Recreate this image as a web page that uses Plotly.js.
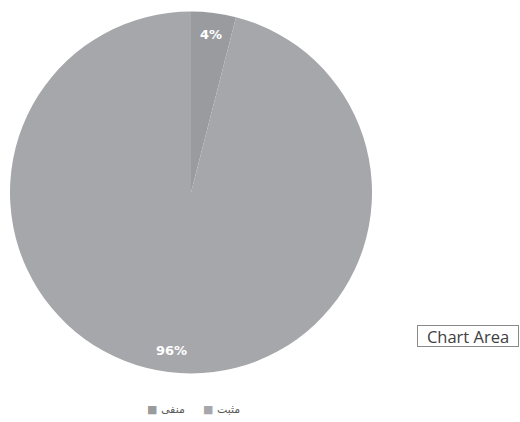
<!DOCTYPE html>
<html><head><meta charset="utf-8">
<script src="https://cdn.plot.ly/plotly-3.0.1.min.js"></script>
<style>html,body{margin:0;padding:0;background:#fff;}#chart{width:520px;height:422px;}</style>
</head><body><div id="chart"></div>
<script>
const labels = ["منفی", "مثبت"];
const values = [4, 96];
const sliceColors = ["#9a9b9f", "#a6a7ab"];

const W = 520, H = 422;
const pieLeft = 10, pieRight = 372, pieTop = 11, pieBottom = 374;
const dom = {x: [pieLeft / W, pieRight / W], y: [1 - pieBottom / H, 1 - pieTop / H]};

const trace = {
  type: "pie",
  labels: labels,
  values: values,
  sort: false,
  direction: "clockwise",
  rotation: 0,
  marker: {colors: sliceColors, line: {width: 0}},
  textinfo: "none",
  domain: dom,
  hoverinfo: "none",
  showlegend: false
};

// percentage labels placed along each slice's bisector (derived from values)
const total = values.reduce((a, b) => a + b, 0);
const cxPx = (pieLeft + pieRight) / 2, cyPx = (pieTop + pieBottom) / 2;
const R = Math.min(pieRight - pieLeft, pieBottom - pieTop) / 2;
const annotations = [];
let cum = 0;
values.forEach((v, i) => {
  const mid = (cum + v / 2) / total * 2 * Math.PI;
  cum += v;
  const rr = 0.88 * R;
  const px = cxPx + rr * Math.sin(mid);
  const py = cyPx - rr * Math.cos(mid);
  annotations.push({
    xref: "paper", yref: "paper", x: px / W, y: 1 - py / H,
    xanchor: "center", yanchor: "middle", showarrow: false,
    text: "<b>" + Math.round(v / total * 100) + "%</b>",
    font: {family: "DejaVu Sans", size: 13, color: "#ffffff"}
  });
});

// legend drawn as annotations (marker square + label)
const legendX = [145, 201];
labels.forEach((lab, i) => {
  annotations.push({
    xref: "paper", yref: "paper", x: legendX[i] / W, y: 1 - 409 / H,
    xanchor: "left", yanchor: "middle", showarrow: false,
    text: "<span style='color:" + sliceColors[i] + "'>■</span> " + lab,
    font: {family: "DejaVu Sans", size: 11, color: "#595959"}
  });
});

annotations.push({
  xref: "paper", yref: "paper", x: 417 / W, y: 1 - 335.5 / H, xanchor: "left", yanchor: "middle",
  text: "Chart Area", showarrow: false, bordercolor: "#8a8a8a", borderwidth: 1, borderpad: 0,
  width: 100, height: 20, align: "center",
  bgcolor: "#ffffff", font: {family: "Open Sans", size: 16.5, color: "#404040"}
});

const layout = {
  width: W, height: H,
  margin: {l: 0, r: 0, t: 0, b: 0},
  paper_bgcolor: "#ffffff",
  showlegend: false,
  annotations: annotations
};

Plotly.newPlot("chart", [trace], layout, {displayModeBar: false, staticPlot: true});
</script></body></html>
